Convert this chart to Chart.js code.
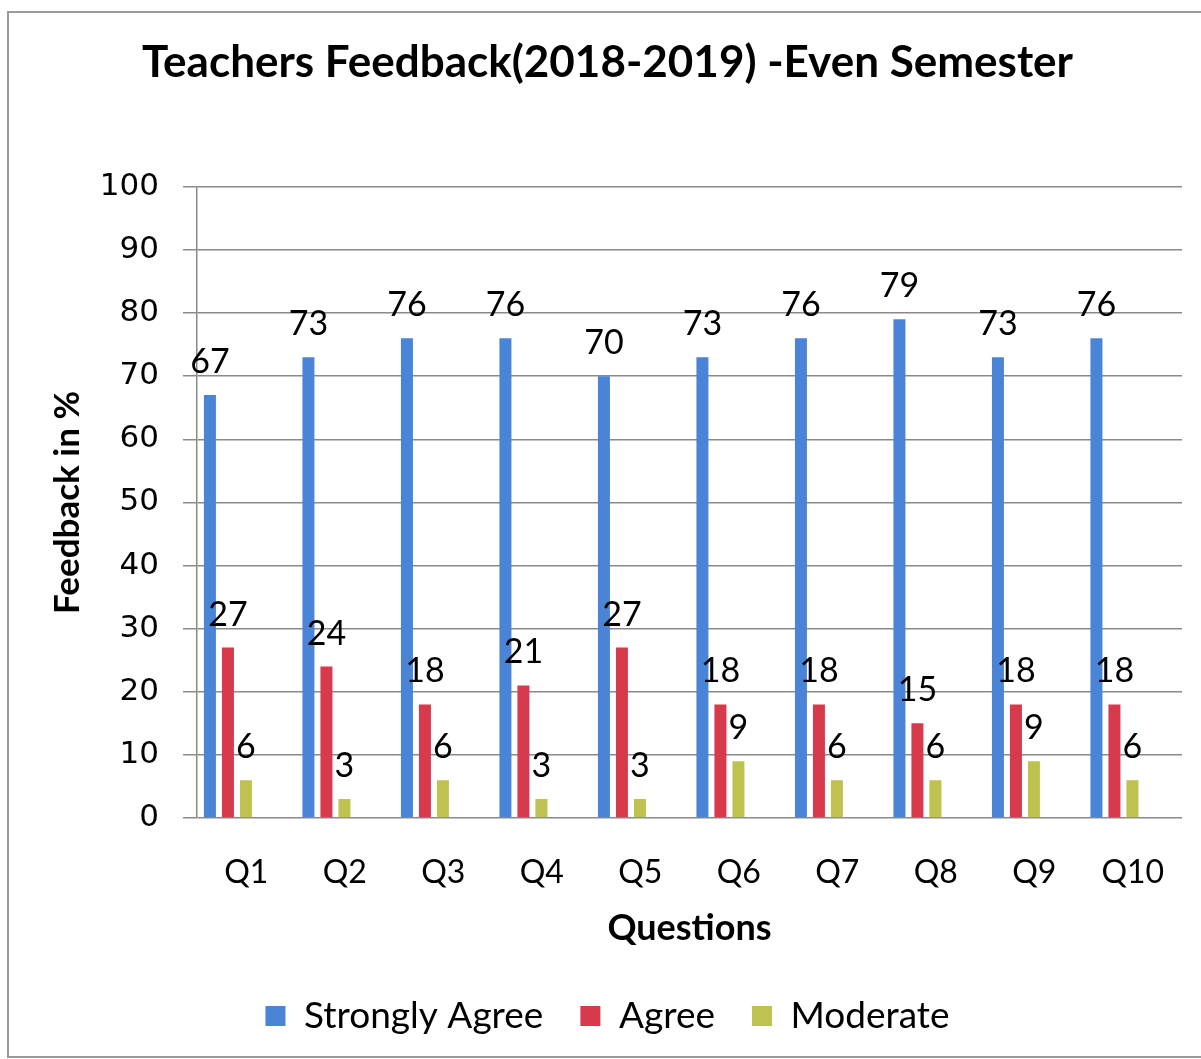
<!DOCTYPE html>
<html>
<head>
<meta charset="utf-8">
<script src="https://cdn.jsdelivr.net/npm/chart.js@4"></script>
<style>
  html, body { margin: 0; padding: 0; background: #fff; }
  #wrap { position: relative; width: 1201px; height: 1059px; }
  #frame { position: absolute; left: 7px; top: 11px; width: 1210px; height: 1043px;
           border: 2px solid #9a9a9a; pointer-events: none; }
</style>
</head>
<body>
<div id="wrap">
  <canvas id="chart"></canvas>
  <div id="frame"></div>
</div>
<script>
const questions = ["Q1", "Q2", "Q3", "Q4", "Q5", "Q6", "Q7", "Q8", "Q9", "Q10"];
const stronglyAgree = [67, 73, 76, 76, 70, 73, 76, 79, 73, 76];
const agree = [27, 24, 18, 21, 27, 18, 18, 15, 18, 18];
const moderate = [6, 3, 6, 3, 3, 9, 6, 6, 9, 6];
const yTicks = [0, 10, 20, 30, 40, 50, 60, 70, 80, 90, 100];

// bars sit a little left of each question's centre in the original
const barShift = 0.186;

function points(values) {
  return values.map((v, i) => ({ x: i, y: v }));
}

// value labels above every bar
const valueLabels = {
  id: "valueLabels",
  afterDatasetsDraw(chart) {
    const ctx = chart.ctx;
    ctx.save();
    ctx.font = "34px Lato";
    ctx.fillStyle = "#000";
    ctx.textAlign = "center";
    ctx.textBaseline = "alphabetic";
    chart.data.datasets.forEach((ds, di) => {
      const meta = chart.getDatasetMeta(di);
      meta.data.forEach((bar, i) => {
        ctx.fillText(String(ds.data[i].y), bar.x, bar.y - 22);
      });
    });
    ctx.restore();
  }
};

Chart.defaults.font.family = "Lato";
Chart.defaults.color = "#000";

new Chart(document.getElementById("chart"), {
  type: "bar",
  data: {
    datasets: [
      { label: "Strongly Agree", data: points(stronglyAgree), backgroundColor: "#4a84d6", xAxisID: "xb" },
      { label: "Agree", data: points(agree), backgroundColor: "#d63a4c", xAxisID: "xb" },
      { label: "Moderate", data: points(moderate), backgroundColor: "#bec24e", xAxisID: "xb" }
    ]
  },
  options: {
    responsive: true,
    maintainAspectRatio: false,
    animation: false,
    categoryPercentage: 0.548,
    barPercentage: 0.667,
    layout: { padding: { left: 33, right: 19, top: 0, bottom: 14.5 } },
    plugins: {
      tooltip: { enabled: false },
      title: {
        display: true,
        text: "Teachers Feedback(2018-2019) -Even Semester",
        font: { size: 44, weight: "bold" },
        color: "#000",
        padding: { top: 36, bottom: 98 }
      },
      legend: {
        position: "bottom",
        labels: {
          font: { size: 37 },
          color: "#000",
          boxWidth: 20,
          boxHeight: 20,
          padding: 37
        }
      }
    },
    scales: {
      xb: {
        type: "linear",
        display: false,
        offset: false,
        min: -0.5 + barShift,
        max: questions.length - 0.5 + barShift
      },
      x: {
        type: "category",
        labels: questions,
        offset: true,
        grid: { display: false },
        border: { display: false },
        afterFit: (scale) => { scale.height = 142.5; },
        ticks: { font: { size: 32 }, color: "#000", padding: 27 },
        title: {
          display: true,
          text: "Questions",
          font: { size: 36, weight: "bold" },
          color: "#000",
          padding: { top: 8, bottom: 11 }
        }
      },
      y: {
        min: 0,
        max: 100,
        afterBuildTicks: (scale) => { scale.ticks = yTicks.map(v => ({ value: v })); },
        afterFit: (scale) => { scale.width = 164; },
        grid: { color: "#8a8a8a", lineWidth: 1.5, tickLength: 14 },
        border: { color: "#8a8a8a", width: 1.5 },
        ticks: { font: { family: "DejaVu Sans", size: 31 }, color: "#000", padding: 24 },
        title: {
          display: true,
          text: "Feedback in %",
          font: { size: 35, weight: "bold" },
          color: "#000",
          padding: { top: 14, bottom: 0 }
        }
      }
    }
  },
  plugins: [valueLabels]
});
</script>
</body>
</html>
